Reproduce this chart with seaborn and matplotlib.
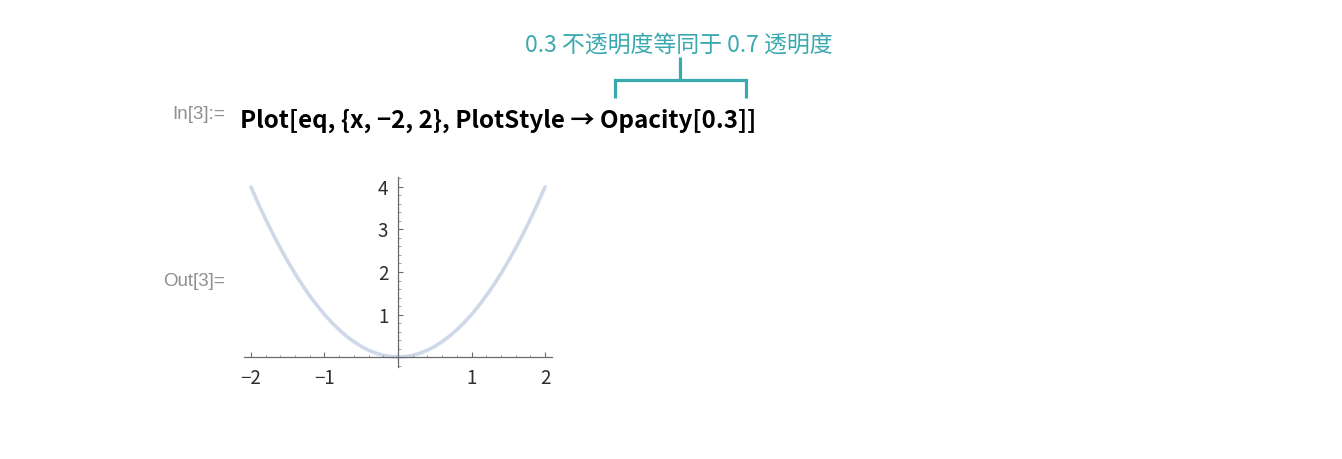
import matplotlib
matplotlib.use('Agg')
import matplotlib.pyplot as plt
import seaborn as sns
import pandas as pd
from matplotlib.lines import Line2D
from matplotlib.ticker import MultipleLocator, FixedLocator

# curve samples (y = x^2 on [-2, 2])
x_vals = [-2.0, -1.9, -1.8, -1.7, -1.6, -1.5, -1.4, -1.3, -1.2, -1.1, -1.0,
          -0.9, -0.8, -0.7, -0.6, -0.5, -0.4, -0.3, -0.2, -0.1, 0.0,
          0.1, 0.2, 0.3, 0.4, 0.5, 0.6, 0.7, 0.8, 0.9, 1.0,
          1.1, 1.2, 1.3, 1.4, 1.5, 1.6, 1.7, 1.8, 1.9, 2.0]
y_vals = [4.0, 3.61, 3.24, 2.89, 2.56, 2.25, 1.96, 1.69, 1.44, 1.21, 1.0,
          0.81, 0.64, 0.49, 0.36, 0.25, 0.16, 0.09, 0.04, 0.01, 0.0,
          0.01, 0.04, 0.09, 0.16, 0.25, 0.36, 0.49, 0.64, 0.81, 1.0,
          1.21, 1.44, 1.69, 1.96, 2.25, 2.56, 2.89, 3.24, 3.61, 4.0]
x_ticks = [-2, -1, 1, 2]
y_ticks = [1, 2, 3, 4]

code_text = 'Plot[eq, {x, \u22122, 2}, PlotStyle \u2192 Opacity[0.3]]'
note_text = '0.3 不透明度等同于 0.7 透明度'

sns.set_style('white')
plt.rcParams['font.family'] = ['Noto Sans CJK SC', 'DejaVu Sans']

W, H = 1342, 459
fig = plt.figure(figsize=(W / 100, H / 100), dpi=100)

def fx(px):
    return px / W

def fy(py):
    return 1 - py / H

ax = fig.add_axes([fx(244), fy(367), fx(552) - fx(244), fy(177) - fy(367)])
df = pd.DataFrame({'x': x_vals, 'y': y_vals})
sns.lineplot(data=df, x='x', y='y', ax=ax, color='#5E81B5', alpha=0.3,
             linewidth=2.6, clip_on=False)

ax.set_xlim(-2.095, 2.095)
ax.set_ylim(-0.235, 4.235)
ax.set_xlabel('')
ax.set_ylabel('')
ax.patch.set_alpha(0)

for s in ['top', 'right']:
    ax.spines[s].set_visible(False)
for s in ['left', 'bottom']:
    ax.spines[s].set_position(('data', 0))
    ax.spines[s].set_color('#6b6b6b')
    ax.spines[s].set_linewidth(0.9)

ax.xaxis.set_major_locator(FixedLocator(x_ticks))
ax.yaxis.set_major_locator(FixedLocator(y_ticks))
ax.xaxis.set_minor_locator(MultipleLocator(0.2))
ax.yaxis.set_minor_locator(MultipleLocator(0.2))
ax.tick_params(which='both', bottom=True, left=True, top=False, right=False)
ax.tick_params(which='major', direction='in', length=3.5, width=0.8,
               color='#6b6b6b', labelsize=13.5, labelcolor='#2e2e2e')
ax.tick_params(which='minor', direction='in', length=1.8, width=0.6,
               color='#8a8a8a')
ax.tick_params(axis='x', which='major', pad=8)
ax.tick_params(axis='y', which='major', pad=7)
ax.set_xticklabels(['\u22122', '\u22121', '1', '2'])
ax.set_yticklabels([str(v) for v in y_ticks])

# notebook labels
fig.text(fx(225), fy(115), 'In[3]:=', ha='right', va='center', fontsize=13.5,
         color='#8f8f8f', family=['Liberation Sans', 'DejaVu Sans'])
fig.text(fx(225), fy(281), 'Out[3]=', ha='right', va='center', fontsize=13.5,
         color='#8f8f8f', family=['Liberation Sans', 'DejaVu Sans'])
fig.text(fx(240), fy(121), code_text, ha='left', va='center', fontsize=17.4,
         fontweight='bold', color='black',
         family=['Noto Sans CJK SC', 'DejaVu Sans'])

# teal annotation + bracket
teal = '#3aa9af'
fig.text(fx(679), fy(45), note_text, ha='center', va='center', fontsize=16.5,
         color=teal, family=['Noto Sans CJK SC', 'DejaVu Sans'])
bx = [fx(615), fx(615), fx(746), fx(746)]
by = [fy(98), fy(80), fy(80), fy(98)]
fig.add_artist(Line2D(bx, by, color=teal, linewidth=2.3,
                      solid_joinstyle='miter', solid_capstyle='butt'))
fig.add_artist(Line2D([fx(680), fx(680)], [fy(57), fy(80)], color=teal,
                      linewidth=2.3, solid_capstyle='butt'))

fig.savefig('out.png', dpi=100, facecolor='white')
